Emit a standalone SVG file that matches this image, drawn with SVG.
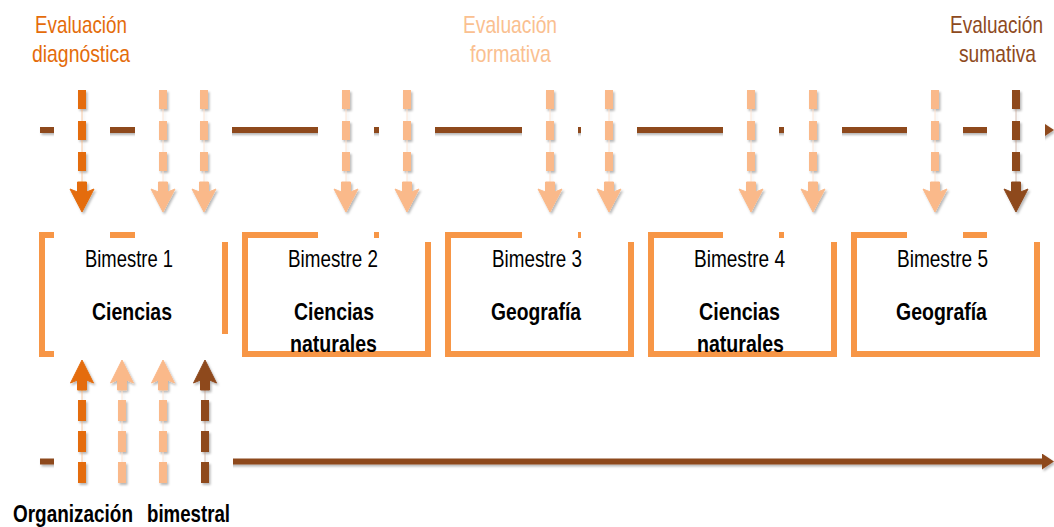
<svg xmlns="http://www.w3.org/2000/svg" xmlns:xlink="http://www.w3.org/1999/xlink" width="1054" height="527" viewBox="0 0 1054 527">
<defs>
<style>
.bg{fill:#ffffff}
.box{fill:none;stroke:#F79646;stroke-width:6}
.tl{stroke:#8E4A1E;stroke-width:6;fill:none}
.dashT{stroke-width:8;stroke-dasharray:19 12;fill:none}
.dashB{stroke-width:8;stroke-dasharray:21 10;fill:none}
.thin{stroke-width:1;opacity:0.35}
.dk{stroke:#E46C0A;fill:#E46C0A}
.lt{stroke:#FAB98A;fill:#FAB98A}
.br{stroke:#8E4A1E;fill:#8E4A1E}
.t{font-family:"Liberation Sans",Arial,sans-serif;font-size:23px}
.b{font-family:"Liberation Sans",Arial,sans-serif;font-size:23px;font-weight:bold;fill:#000}
.k{fill:#000}
.tdk{fill:#E46C0A;stroke:none}
.tlt{fill:#FAC090;stroke:none}
.tbr{fill:#8E4A1E;stroke:none}
</style>
<filter id="sh" filterUnits="userSpaceOnUse" x="-20" y="-20" width="1100" height="570">
<feDropShadow dx="1.5" dy="2" stdDeviation="1.2" flood-color="#000" flood-opacity="0.28"/>
</filter>
<marker id="mk" markerUnits="userSpaceOnUse" markerWidth="12" markerHeight="16" refX="0" refY="8" orient="auto">
<path d="M0,0 L12,8 L0,16 Z" fill="#8E4A1E"/>
</marker>
<path id="ahDown" d="M-4.5,0 H4.5 V10 L12,7 L0,30 L-12,7 L-4.5,10 Z"/>
<path id="ahUp" d="M-4.5,0 H4.5 V-10 L11.5,-7 L0,-30 L-11.5,-7 L-4.5,-10 Z"/>
</defs>

<g id="timelines" filter="url(#sh)">
<line class="tl" x1="40" y1="130" x2="1042" y2="130" marker-end="url(#mk)"/>
<line class="tl" x1="40" y1="461.5" x2="1042" y2="461.5" marker-end="url(#mk)"/>
</g>

<g id="bimestre1"><rect class="box" x="42" y="235" width="183" height="119"/></g>
<g id="bimestre2"><rect class="box" x="245" y="235" width="183" height="119"/></g>
<g id="bimestre3"><rect class="box" x="448" y="235" width="183" height="119"/></g>
<g id="bimestre4"><rect class="box" x="651" y="235" width="183" height="119"/></g>
<g id="bimestre5"><rect class="box" x="854" y="235" width="183" height="119"/></g>

<g id="covers" class="bg">
<rect x="54" y="85" width="56" height="157"/>
<rect x="135" y="85" width="56" height="157"/>
<rect x="176" y="85" width="56" height="157"/>
<rect x="318" y="85" width="56" height="157"/>
<rect x="379" y="85" width="56" height="157"/>
<rect x="522" y="85" width="56" height="157"/>
<rect x="581" y="85" width="56" height="157"/>
<rect x="723" y="85" width="56" height="157"/>
<rect x="784" y="85" width="58" height="157"/>
<rect x="907" y="85" width="56" height="157"/>
<rect x="987" y="85" width="58" height="157"/>
<rect x="54" y="334" width="179" height="156"/>
</g>

<g id="connectors">
<g id="down-arrows" filter="url(#sh)">
<g class="dk"><line class="thin" x1="82" y1="90" x2="82" y2="182"/><line class="dashT" x1="82" y1="90" x2="82" y2="171"/><use xlink:href="#ahDown" transform="translate(82,182)"/></g>
<g class="lt"><line class="thin" x1="163" y1="90" x2="163" y2="182"/><line class="dashT" x1="163" y1="90" x2="163" y2="171"/><use xlink:href="#ahDown" transform="translate(163,182)"/></g>
<g class="lt"><line class="thin" x1="204" y1="90" x2="204" y2="182"/><line class="dashT" x1="204" y1="90" x2="204" y2="171"/><use xlink:href="#ahDown" transform="translate(204,182)"/></g>
<g class="lt"><line class="thin" x1="346" y1="90" x2="346" y2="182"/><line class="dashT" x1="346" y1="90" x2="346" y2="171"/><use xlink:href="#ahDown" transform="translate(346,182)"/></g>
<g class="lt"><line class="thin" x1="407" y1="90" x2="407" y2="182"/><line class="dashT" x1="407" y1="90" x2="407" y2="171"/><use xlink:href="#ahDown" transform="translate(407,182)"/></g>
<g class="lt"><line class="thin" x1="550" y1="90" x2="550" y2="182"/><line class="dashT" x1="550" y1="90" x2="550" y2="171"/><use xlink:href="#ahDown" transform="translate(550,182)"/></g>
<g class="lt"><line class="thin" x1="609" y1="90" x2="609" y2="182"/><line class="dashT" x1="609" y1="90" x2="609" y2="171"/><use xlink:href="#ahDown" transform="translate(609,182)"/></g>
<g class="lt"><line class="thin" x1="751" y1="90" x2="751" y2="182"/><line class="dashT" x1="751" y1="90" x2="751" y2="171"/><use xlink:href="#ahDown" transform="translate(751,182)"/></g>
<g class="lt"><line class="thin" x1="813" y1="90" x2="813" y2="182"/><line class="dashT" x1="813" y1="90" x2="813" y2="171"/><use xlink:href="#ahDown" transform="translate(813,182)"/></g>
<g class="lt"><line class="thin" x1="935" y1="90" x2="935" y2="182"/><line class="dashT" x1="935" y1="90" x2="935" y2="171"/><use xlink:href="#ahDown" transform="translate(935,182)"/></g>
<g class="br"><line class="thin" x1="1016" y1="90" x2="1016" y2="182"/><line class="dashT" x1="1016" y1="90" x2="1016" y2="171"/><use xlink:href="#ahDown" transform="translate(1016,182)"/></g>
</g>
<g id="up-arrows" filter="url(#sh)">
<g class="dk"><line class="thin" x1="82" y1="390" x2="82" y2="483"/><line class="dashB" x1="82" y1="400" x2="82" y2="483"/><use xlink:href="#ahUp" transform="translate(82,390)"/></g>
<g class="lt"><line class="thin" x1="122" y1="390" x2="122" y2="483"/><line class="dashB" x1="122" y1="400" x2="122" y2="483"/><use xlink:href="#ahUp" transform="translate(122,390)"/></g>
<g class="lt"><line class="thin" x1="163" y1="390" x2="163" y2="483"/><line class="dashB" x1="163" y1="400" x2="163" y2="483"/><use xlink:href="#ahUp" transform="translate(163,390)"/></g>
<g class="br"><line class="thin" x1="205" y1="390" x2="205" y2="483"/><line class="dashB" x1="205" y1="400" x2="205" y2="483"/><use xlink:href="#ahUp" transform="translate(205,390)"/></g>
</g>
</g>

<g id="label-diagnostica" class="t tdk">
<text transform="translate(35,33) scale(0.83,1)" textLength="110.8" lengthAdjust="spacingAndGlyphs">Evaluación</text>
<text transform="translate(32,62) scale(0.83,1)" textLength="118.1" lengthAdjust="spacingAndGlyphs">diagnóstica</text>
</g>
<g id="label-formativa" class="t tlt">
<text transform="translate(463,33) scale(0.83,1)" textLength="113.3" lengthAdjust="spacingAndGlyphs">Evaluación</text>
<text transform="translate(470,62) scale(0.83,1)" textLength="97.6" lengthAdjust="spacingAndGlyphs">formativa</text>
</g>
<g id="label-sumativa" class="t tbr">
<text transform="translate(950,33) scale(0.83,1)" textLength="112" lengthAdjust="spacingAndGlyphs">Evaluación</text>
<text transform="translate(959,62) scale(0.83,1)" textLength="92.8" lengthAdjust="spacingAndGlyphs">sumativa</text>
</g>

<g id="bimestre-texts">
<text class="t k" transform="translate(85,266.5) scale(0.83,1)" textLength="106" lengthAdjust="spacingAndGlyphs">Bimestre 1</text>
<text class="b" transform="translate(92,320) scale(0.83,1)" textLength="96.4" lengthAdjust="spacingAndGlyphs">Ciencias</text>
<text class="t k" transform="translate(288,266.5) scale(0.83,1)" textLength="108.4" lengthAdjust="spacingAndGlyphs">Bimestre 2</text>
<text class="b" transform="translate(294,320) scale(0.83,1)" textLength="96.4" lengthAdjust="spacingAndGlyphs">Ciencias</text>
<text class="b" transform="translate(290,352) scale(0.83,1)" textLength="104.8" lengthAdjust="spacingAndGlyphs">naturales</text>
<text class="t k" transform="translate(492,266.5) scale(0.83,1)" textLength="108.4" lengthAdjust="spacingAndGlyphs">Bimestre 3</text>
<text class="b" transform="translate(491,320) scale(0.83,1)" textLength="108.4" lengthAdjust="spacingAndGlyphs">Geografía</text>
<text class="t k" transform="translate(694,266.5) scale(0.83,1)" textLength="109.6" lengthAdjust="spacingAndGlyphs">Bimestre 4</text>
<text class="b" transform="translate(699,320) scale(0.83,1)" textLength="97.6" lengthAdjust="spacingAndGlyphs">Ciencias</text>
<text class="b" transform="translate(697,352) scale(0.83,1)" textLength="104.8" lengthAdjust="spacingAndGlyphs">naturales</text>
<text class="t k" transform="translate(897,266.5) scale(0.83,1)" textLength="109.6" lengthAdjust="spacingAndGlyphs">Bimestre 5</text>
<text class="b" transform="translate(896,320) scale(0.83,1)" textLength="109.6" lengthAdjust="spacingAndGlyphs">Geografía</text>
</g>

<g id="label-organizacion">
<text class="b" transform="translate(13,522) scale(0.83,1)" textLength="144.6" lengthAdjust="spacingAndGlyphs">Organización</text>
<text class="b" transform="translate(147,522) scale(0.83,1)" textLength="100" lengthAdjust="spacingAndGlyphs">bimestral</text>
</g>
</svg>
